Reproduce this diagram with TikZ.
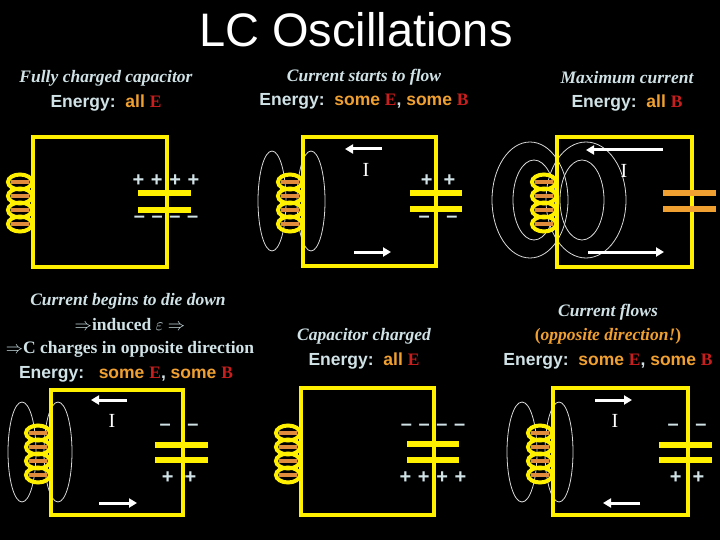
\documentclass[tikz,border=0pt]{standalone}
\usepackage{fontspec}
\setmainfont{Liberation Serif}
\newfontfamily\sansf{Liberation Sans}
\usetikzlibrary{arrows.meta}
\definecolor{lightt}{RGB}{208,226,230}
\definecolor{orng}{RGB}{240,160,48}
\definecolor{redd}{RGB}{200,30,30}
\definecolor{wire}{RGB}{255,240,0}
\definecolor{coilo}{RGB}{225,140,60}
\tikzset{
  wire/.style={line width=4pt, color=wire},
  plate/.style={line width=6pt, color=wire},
  oplate/.style={line width=6pt, color=orng},
  field/.style={line width=0.8pt, color=white!85!black},
  flow/.style={line width=3pt, white, -{Triangle[length=8pt,width=9pt]}},
  capt/.style={font=\bfseries\itshape\fontsize{17.5}{20}\selectfont, text=lightt},
  nrg/.style={font=\sansf\bfseries\fontsize{17.5}{20}\selectfont, text=lightt},
  chg/.style={font=\sansf\bfseries\fontsize{20}{20}\selectfont, text=lightt},
  cur/.style={font=\fontsize{20}{20}\selectfont, text=white},
}
\newcommand\Ered{\textcolor{redd}{\rmfamily E}}
\newcommand\Bred{\textcolor{redd}{\rmfamily B}}
\newcommand\orn[1]{\textcolor{orng}{#1}}
\newcommand\mi{\textendash}
% coil on the left wire at x=#1, top of coil y=#2
\newcommand\drawcoil[2]{%
  \foreach \i in {0,...,3}{
    \draw[line width=4pt, coilo] (#1-22,#2+7+\i*14) -- (#1-4,#2+7+\i*14);
    \draw[line width=2.6pt, wire] (#1-13,#2+7+\i*14) ellipse (12 and 7.5);
  }}
\begin{document}
\begin{tikzpicture}[x=1pt,y=-1pt]
\fill[black] (0,0) rectangle (720,540);
\useasboundingbox (0,0) rectangle (720,540);

\node[font=\sansf\fontsize{47}{50}\selectfont, white] (title) at (356,30) {LC Oscillations};

% ---- panel 1
\node[capt] (t1a) at (106,78) {Fully charged capacitor};
\node[nrg] (t1b) at (106,103) {Energy:\ \ \orn{all} \Ered};
\draw[wire] (33,137) rectangle (167,267);
\drawcoil{33}{175}
\draw[plate] (138,193) -- (191,193);
\draw[plate] (138,210) -- (191,210);
\node[chg] (p1) at (166,181) {+\,\,+\,\,+\,\,+};
\node[chg] (m1) at (166,219) {\mi\,\,\mi\,\,\mi\,\,\mi};

% ---- panel 2
\node[capt] (t2a) at (364,77) {Current starts to flow};
\node[nrg] (t2b) at (364,101) {Energy:\ \ \orn{some} \Ered, \orn{some} \Bred};
\draw[field] (272,201) ellipse (14 and 50);
\draw[field] (311,201) ellipse (14 and 50);
\draw[wire] (303,137) rectangle (436,266);
\drawcoil{303}{175}
\draw[plate] (410,193) -- (462,193);
\draw[plate] (410,209) -- (462,209);
\node[chg] (p2) at (438,181) {+\ \ +};
\node[chg] (m2) at (438,219) {\mi\ \ \ \mi};
\draw[flow] (382,149) -- (345,149);
\draw[flow] (354,252) -- (391,252);
\node[cur] (i2) at (366,170) {I};

% ---- panel 3
\node[capt] (t3a) at (627,78) {Maximum current};
\node[nrg] (t3b) at (627,103) {Energy:\ \ \orn{all} \Bred};
\draw[field] (530,200) ellipse (38 and 58);
\draw[field] (534,200) ellipse (21 and 40);
\draw[field] (586,200) ellipse (40 and 58);
\draw[field] (582,200) ellipse (22 and 40);
\draw[wire] (557,137) rectangle (692,267);
\drawcoil{557}{175}
\draw[oplate] (663,193) -- (716,193);
\draw[oplate] (663,209) -- (716,209);
\draw[flow] (663,150) -- (586,150);
\draw[flow] (588,252) -- (664,252);
\node[cur] (i3) at (624,171) {I};

% ---- panel 4
\node[capt] (t4a) at (128,301) {Current begins to die down};
\node[capt, font=\bfseries\fontsize{17.5}{20}\selectfont] (t4b) at (130,325) {$\Rightarrow$induced $\varepsilon$ $\Rightarrow$};
\node[capt, font=\bfseries\fontsize{17.5}{20}\selectfont] (t4c) at (130,349) {$\Rightarrow$C charges in opposite direction};
\node[nrg] (t4d) at (126,374) {Energy:\ \ \ \orn{some} \Ered, \orn{some} \Bred};
\draw[field] (22,452) ellipse (14 and 50);
\draw[field] (58,452) ellipse (14 and 50);
\draw[wire] (51,390) rectangle (183,515);
\drawcoil{51}{426}
\draw[plate] (155,445) -- (208,445);
\draw[plate] (155,460) -- (208,460);
\node[chg] (m4) at (179,427) {\mi\ \ \ \mi};
\node[chg] (p4) at (179,478) {+\ \ +};
\draw[flow] (127,400) -- (91,400);
\draw[flow] (99,503) -- (137,503);
\node[cur] (i4) at (112,421) {I};

% ---- panel 5
\node[capt] (t5a) at (364,336) {Capacitor charged};
\node[nrg] (t5b) at (364,361) {Energy:\ \ \orn{all} \Ered};
\draw[wire] (301,388) rectangle (434,515);
\drawcoil{301}{426}
\draw[plate] (407,444) -- (459,444);
\draw[plate] (407,460) -- (459,460);
\node[chg] (m5) at (433,427) {\mi\,\,\mi\,\,\mi\,\,\mi};
\node[chg] (p5) at (433,478) {+\,\,+\,\,+\,\,+};

% ---- panel 6
\node[capt] (t6a) at (608,312) {Current flows};
\node[capt, text=orng] (t6b) at (608,336) {\textup{(}opposite direction!\textup{)}};
\node[nrg] (t6c) at (608,361) {Energy:\ \ \orn{some} \Ered, \orn{some} \Bred};
\draw[field] (522,452) ellipse (15 and 50);
\draw[field] (559,452) ellipse (14 and 50);
\draw[wire] (553,388) rectangle (688,515);
\drawcoil{553}{426}
\draw[plate] (659,445) -- (712,445);
\draw[plate] (659,460) -- (712,460);
\node[chg] (m6) at (687,427) {\mi\ \ \ \mi};
\node[chg] (p6) at (687,478) {+\ \ +};
\draw[flow] (595,400) -- (632,400);
\draw[flow] (640,503) -- (603,503);
\node[cur] (i6) at (615,421) {I};
\end{tikzpicture}
\end{document}
